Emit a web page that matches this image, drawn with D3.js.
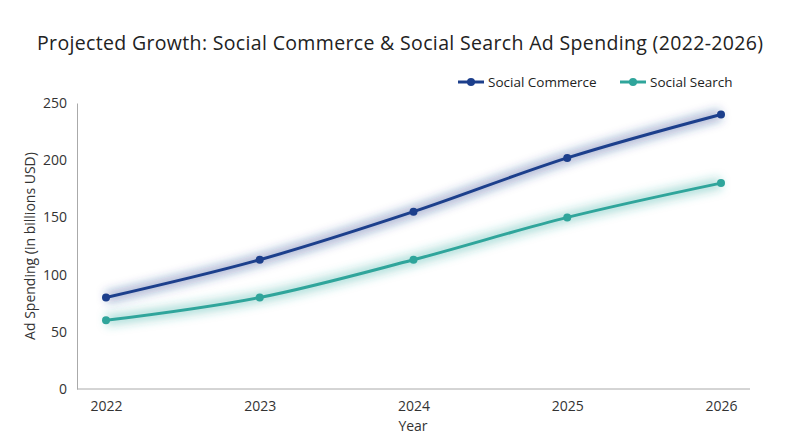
<!DOCTYPE html>
<html><head><meta charset="utf-8">
<script src="https://cdn.jsdelivr.net/npm/d3@7"></script>
<style>body{margin:0;background:#fff}text{font-family:"Open Sans",sans-serif}</style>
</head><body><svg id="c" width="800" height="447"></svg>
<script>
// chart data
const years = [2022, 2023, 2024, 2025, 2026]
const socialCommerce = [80, 113, 155, 202, 240]
const socialSearch = [60, 80, 113, 150, 180]
const yTicks = [0, 50, 100, 150, 200, 250]
const seriesNames = ["Social Commerce", "Social Search"]
const colors = ["#1c3f8c", "#2fa59b"]

const svg = d3.select("#c")
const m = {l: 77, r: 750, t: 103, b: 389}

const x = d3.scalePoint().domain(years).range([106, 721])
const y = d3.scaleLinear().domain([0, 250]).range([m.b, m.t])

const defs = svg.append("defs")
const f = defs.append("filter").attr("id", "glow").attr("x", "-10%").attr("y", "-50%").attr("width", "120%").attr("height", "200%")
f.append("feGaussianBlur").attr("stdDeviation", 5)

svg.append("text").attr("x", 400).attr("y", 50).attr("text-anchor", "middle")
    .attr("font-size", 19.5).attr("fill", "#222").attr("textLength", 726)
    .text("Projected Growth: Social Commerce & Social Search Ad Spending (2022-2026)")

// axes
const yAxis = svg.append("g").attr("transform", `translate(${m.l},0)`)
    .call(d3.axisLeft(y).tickValues(yTicks).tickSize(0).tickPadding(10))
yAxis.select(".domain").attr("stroke", "#aaa")
yAxis.selectAll("text").attr("font-size", 14).attr("fill", "#333")

const xAxis = svg.append("g").attr("transform", `translate(0,${m.b})`)
    .call(d3.axisBottom(x).tickSize(0).tickPadding(12))
xAxis.select(".domain").attr("d", `M${m.l},0H${m.r}`).attr("stroke", "#aaa")
xAxis.selectAll("text").attr("font-size", 14).attr("fill", "#333")

svg.append("text").attr("x", 413).attr("y", 431).attr("text-anchor", "middle")
    .attr("font-size", 14).attr("fill", "#333").text("Year")
svg.append("text").attr("transform", "translate(35,246) rotate(-90)").attr("text-anchor", "middle")
    .attr("font-size", 14).attr("fill", "#333").text("Ad Spending (in billions USD)")

const line = d3.line().x((d, i) => x(years[i])).y(d => y(d)).curve(d3.curveMonotoneX)

;[socialCommerce, socialSearch].forEach((vals, k) => {
    svg.append("path").attr("d", line(vals)).attr("fill", "none")
        .attr("stroke", colors[k]).attr("stroke-opacity", 0.35).attr("stroke-width", 12).attr("filter", "url(#glow)")
    svg.append("path").attr("d", line(vals)).attr("fill", "none")
        .attr("stroke", colors[k]).attr("stroke-width", 3)
    svg.selectAll(null).data(vals).enter().append("circle")
        .attr("cx", (d, i) => x(years[i])).attr("cy", d => y(d)).attr("r", 4).attr("fill", colors[k])
})

// legend
const lx = [458, 620]
seriesNames.forEach((n, k) => {
    const g = svg.append("g").attr("transform", `translate(${lx[k]},82)`)
    g.append("line").attr("x1", 0).attr("x2", 26).attr("stroke", colors[k]).attr("stroke-width", 3)
    g.append("circle").attr("cx", 13).attr("r", 4).attr("fill", colors[k])
    g.append("text").attr("x", 30).attr("y", 5).attr("font-size", 13.5).attr("fill", "#222").text(n)
})
</script></body></html>
